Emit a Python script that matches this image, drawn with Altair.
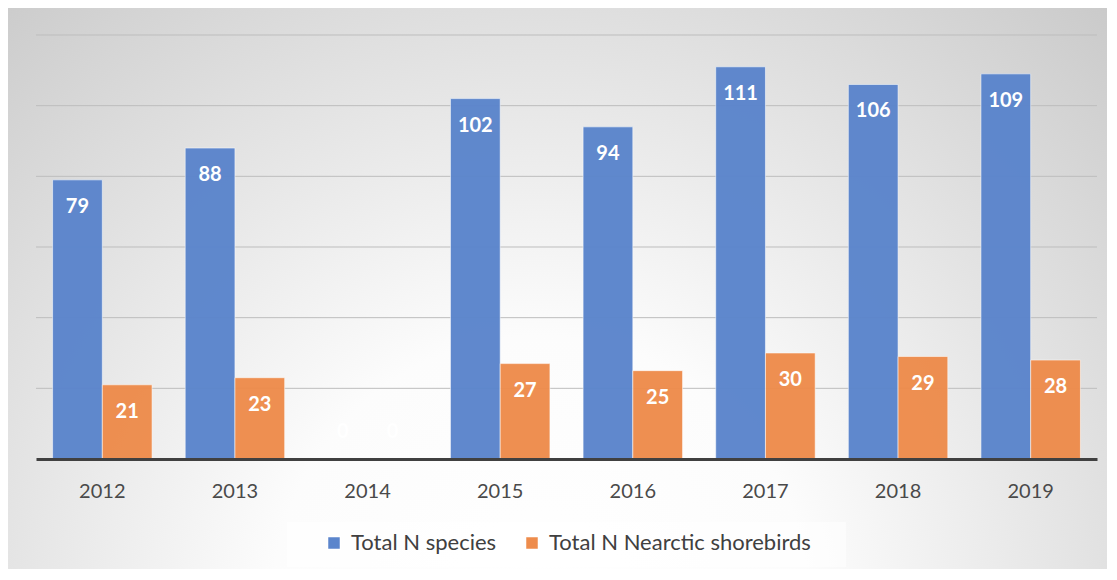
import altair as alt
import pandas as pd

years = ["2012", "2013", "2014", "2015", "2016", "2017", "2018", "2019"]
total_species = [79, 88, 0, 102, 94, 111, 106, 109]
nearctic_shorebirds = [21, 23, 0, 27, 25, 30, 29, 28]
series = ["Total N species", "Total N Nearctic shorebirds"]
colors = ["#5b85cc", "#ee8c4c"]
grid_values = [20, 40, 60, 80, 100, 120]

rows = []
for i, yr in enumerate(years):
    rows.append({"year": yr, "series": series[0], "value": total_species[i]})
    rows.append({"year": yr, "series": series[1], "value": nearctic_shorebirds[i]})
df = pd.DataFrame(rows)
grid_df = pd.DataFrame({"tick": grid_values})
one = pd.DataFrame({"k": [0]})

W, H = 1061, 424
FONT = "Lato"

y_scale = alt.Scale(domain=[0, 120], nice=False, zero=True)
x_scale = alt.Scale(domain=years, paddingInner=0.25, paddingOuter=0.125)
x_axis = alt.Axis(title=None, labelAngle=0, labelFontSize=20, labelColor="#4a4a4a",
                  labelFont=FONT, ticks=False, tickSize=0, labelPadding=22,
                  domainColor="#404040", domainWidth=3, grid=False, zindex=2)

bg = alt.Chart(one).mark_rect(
    fill={"gradient": "radial", "x1": 0.48, "y1": 0.78, "r1": 0,
          "x2": 0.48, "y2": 0.78, "r2": 0.8,
          "stops": [{"offset": 0, "color": "#ffffff"},
                    {"offset": 0.3, "color": "#fcfcfc"},
                    {"offset": 1, "color": "#c4c4c4"}]},
    stroke="#d0d0d0", strokeWidth=1
).encode(x=alt.value(-31), x2=alt.value(1085), y=alt.value(-29), y2=alt.value(542))

legend_box = alt.Chart(one).mark_rect(fill="#ffffff", fillOpacity=0.55).encode(
    x=alt.value(251), x2=alt.value(810), y=alt.value(487), y2=alt.value(532))

grid = alt.Chart(grid_df).mark_rule(color="#bdbdbd", strokeWidth=1).encode(
    y=alt.Y("tick:Q", scale=y_scale, axis=None),
    x=alt.value(0), x2=alt.value(W))

base = alt.Chart(df).encode(
    x=alt.X("year:N", sort=years, scale=x_scale, axis=x_axis),
    xOffset=alt.XOffset("series:N", sort=series, scale=alt.Scale(domain=series, paddingInner=0, paddingOuter=0)),
    y=alt.Y("value:Q", scale=y_scale, axis=None),
)

bars = base.mark_bar(stroke="#ffffff", strokeOpacity=0.55, strokeWidth=1, opacity=0.97).encode(
    color=alt.Color("series:N", sort=series,
                    scale=alt.Scale(domain=series, range=colors),
                    legend=alt.Legend(title=None, orient="none", legendX=287, legendY=497,
                                      direction="horizontal", labelFontSize=22, labelFont=FONT,
                                      labelColor="#404040", labelLimit=0, symbolType="square",
                                      symbolSize=169, symbolOpacity=1, columnPadding=24,
                                      labelOffset=6, padding=0))
)

labels = base.mark_text(color="white", fontWeight="bold", fontSize=20, font=FONT,
                        baseline="middle", dy=27).encode(
    text=alt.Text("value:Q")
).transform_filter(alt.datum.value > 0)

zero_labels = base.mark_text(color="white", fontWeight="bold", fontSize=20, font=FONT,
                             baseline="middle", dy=-27).encode(
    text=alt.Text("value:Q")
).transform_filter(alt.datum.value == 0)

chart = alt.layer(bg, legend_box, grid, bars, labels, zero_labels).properties(
    width=W, height=H,
    autosize=alt.AutoSizeParams(type="none"),
    padding={"left": 28, "top": 27, "right": 10, "bottom": 110},
    background="#ffffff",
).configure_view(stroke=None)

chart.save("out.html", embed_options={"renderer": "svg", "actions": False})
